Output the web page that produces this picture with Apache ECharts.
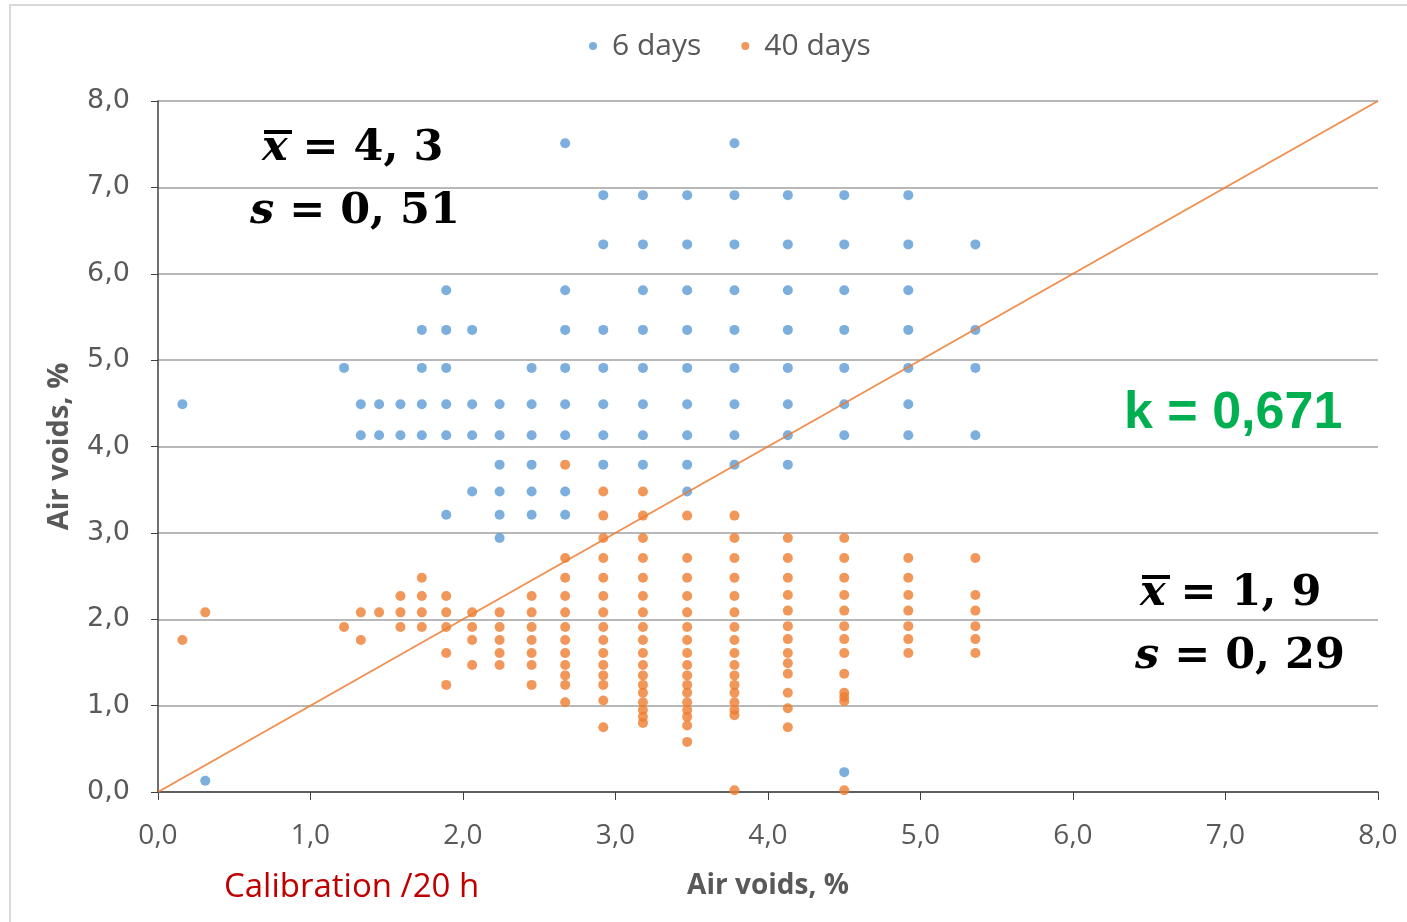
<!DOCTYPE html>
<html>
<head>
<meta charset="utf-8">
<title>Air voids</title>
<script src="https://cdn.jsdelivr.net/npm/echarts@6/dist/echarts.min.js"></script>
<style>
	html, body { margin: 0; padding: 0; background: #fff; }
	#chart { width: 1407px; height: 922px; }
</style>
</head>
<body>
<div id="chart"></div>
<script>
//legend names
var seriesNames = ['6 days', '40 days'];

//6 days points [x, y], one line per column
var days6 = [
	[0.16, 4.49],
	[0.31, 0.13],
	[1.22, 4.91],
	[1.33, 4.49], [1.33, 4.13],
	[1.45, 4.49], [1.45, 4.13],
	[1.59, 4.49], [1.59, 4.13],
	[1.73, 5.35], [1.73, 4.91], [1.73, 4.49], [1.73, 4.13],
	[1.89, 5.81], [1.89, 5.35], [1.89, 4.91], [1.89, 4.49], [1.89, 4.13], [1.89, 3.21],
	[2.06, 5.35], [2.06, 4.49], [2.06, 4.13], [2.06, 3.48],
	[2.24, 4.49], [2.24, 4.13], [2.24, 3.79], [2.24, 3.48], [2.24, 3.21], [2.24, 2.94],
	[2.45, 4.91], [2.45, 4.49], [2.45, 4.13], [2.45, 3.79], [2.45, 3.48], [2.45, 3.21],
	[2.67, 7.51], [2.67, 5.81], [2.67, 5.35], [2.67, 4.91], [2.67, 4.49], [2.67, 4.13], [2.67, 3.48], [2.67, 3.21],
	[2.92, 6.91], [2.92, 6.34], [2.92, 5.35], [2.92, 4.91], [2.92, 4.49], [2.92, 4.13], [2.92, 3.79],
	[3.18, 6.91], [3.18, 6.34], [3.18, 5.81], [3.18, 5.35], [3.18, 4.91], [3.18, 4.49], [3.18, 4.13], [3.18, 3.79],
	[3.47, 6.91], [3.47, 6.34], [3.47, 5.81], [3.47, 5.35], [3.47, 4.91], [3.47, 4.49], [3.47, 4.13], [3.47, 3.79], [3.47, 3.48],
	[3.78, 7.51], [3.78, 6.91], [3.78, 6.34], [3.78, 5.81], [3.78, 5.35], [3.78, 4.91], [3.78, 4.49], [3.78, 4.13], [3.78, 3.79],
	[4.13, 6.91], [4.13, 6.34], [4.13, 5.81], [4.13, 5.35], [4.13, 4.91], [4.13, 4.49], [4.13, 4.13], [4.13, 3.79],
	[4.50, 6.91], [4.50, 6.34], [4.50, 5.81], [4.50, 5.35], [4.50, 4.91], [4.50, 4.49], [4.50, 4.13], [4.50, 0.23],
	[4.92, 6.91], [4.92, 6.34], [4.92, 5.81], [4.92, 5.35], [4.92, 4.91], [4.92, 4.49], [4.92, 4.13],
	[5.36, 6.34], [5.36, 5.35], [5.36, 4.91], [5.36, 4.13]
];

//40 days points [x, y], one line per column
var days40 = [
	[0.16, 1.76],
	[0.31, 2.08],
	[1.22, 1.91],
	[1.33, 2.08], [1.33, 1.76],
	[1.45, 2.08],
	[1.59, 2.27], [1.59, 2.08], [1.59, 1.91],
	[1.73, 2.48], [1.73, 2.27], [1.73, 2.08], [1.73, 1.91],
	[1.89, 2.27], [1.89, 2.08], [1.89, 1.91], [1.89, 1.61], [1.89, 1.24],
	[2.06, 2.08], [2.06, 1.91], [2.06, 1.76], [2.06, 1.47],
	[2.24, 2.08], [2.24, 1.91], [2.24, 1.76], [2.24, 1.61], [2.24, 1.47],
	[2.45, 2.27], [2.45, 2.08], [2.45, 1.91], [2.45, 1.76], [2.45, 1.61], [2.45, 1.47], [2.45, 1.24],
	[2.67, 3.79], [2.67, 2.71], [2.67, 2.48], [2.67, 2.27], [2.67, 2.08], [2.67, 1.91], [2.67, 1.76], [2.67, 1.61], [2.67, 1.47], [2.67, 1.35], [2.67, 1.24], [2.67, 1.04],
	[2.92, 3.48], [2.92, 3.20], [2.92, 2.94], [2.92, 2.71], [2.92, 2.48], [2.92, 2.27], [2.92, 2.08], [2.92, 1.91], [2.92, 1.76], [2.92, 1.61], [2.92, 1.47], [2.92, 1.35], [2.92, 1.24], [2.92, 1.06], [2.92, 0.75],
	[3.18, 3.48], [3.18, 3.20], [3.18, 2.94], [3.18, 2.71], [3.18, 2.48], [3.18, 2.27], [3.18, 2.08], [3.18, 1.91], [3.18, 1.76], [3.18, 1.61], [3.18, 1.47], [3.18, 1.35], [3.18, 1.24], [3.18, 1.15], [3.18, 1.04], [3.18, 0.95], [3.18, 0.87], [3.18, 0.80],
	[3.47, 3.20], [3.47, 2.71], [3.47, 2.48], [3.47, 2.27], [3.47, 2.08], [3.47, 1.91], [3.47, 1.76], [3.47, 1.61], [3.47, 1.47], [3.47, 1.35], [3.47, 1.24], [3.47, 1.15], [3.47, 1.04], [3.47, 0.95], [3.47, 0.87], [3.47, 0.77], [3.47, 0.58],
	[3.78, 3.20], [3.78, 2.94], [3.78, 2.71], [3.78, 2.48], [3.78, 2.27], [3.78, 2.08], [3.78, 1.91], [3.78, 1.76], [3.78, 1.61], [3.78, 1.47], [3.78, 1.35], [3.78, 1.24], [3.78, 1.15], [3.78, 1.04], [3.78, 0.95], [3.78, 0.89], [3.78, 0.02],
	[4.13, 2.94], [4.13, 2.71], [4.13, 2.48], [4.13, 2.28], [4.13, 2.10], [4.13, 1.92], [4.13, 1.77], [4.13, 1.61], [4.13, 1.49], [4.13, 1.37], [4.13, 1.15], [4.13, 0.97], [4.13, 0.75],
	[4.50, 2.94], [4.50, 2.71], [4.50, 2.48], [4.50, 2.28], [4.50, 2.10], [4.50, 1.92], [4.50, 1.77], [4.50, 1.61], [4.50, 1.37], [4.50, 1.15], [4.50, 1.10], [4.50, 1.05], [4.50, 0.02],
	[4.92, 2.71], [4.92, 2.48], [4.92, 2.28], [4.92, 2.10], [4.92, 1.92], [4.92, 1.77], [4.92, 1.61],
	[5.36, 2.71], [5.36, 2.28], [5.36, 2.10], [5.36, 1.92], [5.36, 1.77], [5.36, 1.61]
];

//1:1 line
var lineData = [[0, 0], [8, 8]];

//axis range
var axisMin = 0;
var axisMax = 8;
var axisStep = 1;

var blue = '#5B9BD5';
var orange = '#ED7D31';
var grey = '#595959';

var fmt = function(v) {
	return v.toFixed(1).replace('.', ',');
};

var chart = echarts.init(document.getElementById('chart'));

//stat label: x with overline drawn as short bar
var statText = function(left, top, sym, val, bar) {
	var els = [{
		type: 'text',
		left: left,
		top: top,
		style: {
			text: '{i|' + sym + '} = ' + val,
			font: 'bold 43px "DejaVu Serif"',
			fill: '#000',
			rich: {
				i: { fontStyle: 'italic', fontWeight: 'bold', fontSize: 43, fontFamily: 'DejaVu Serif', fill: '#000' }
			}
		}
	}];
	if(bar) {
		els.push({
			type: 'rect',
			shape: { x: left + 2, y: top + 3, width: 28, height: 4 },
			style: { fill: '#000' }
		});
	}
	return els;
};

var graphics = [{
	type: 'rect',
	shape: { x: 10, y: 5, width: 1420, height: 940 },
	style: { fill: 'none', stroke: '#D9D9D9', lineWidth: 2 },
	silent: true
}, {
	type: 'text',
	left: 1124,
	top: 388,
	style: {
		text: 'k = 0,671',
		font: 'bold 52px "Liberation Sans"',
		fill: '#00B050'
	}
}, {
	type: 'text',
	left: 224,
	top: 871,
	style: {
		text: 'Calibration /20 h',
		font: '33px "Open Sans"',
		fill: '#C00000'
	}
}];
graphics = graphics.concat(statText(262, 127, 'x', '4, 3', true));
graphics = graphics.concat(statText(250, 190, 's', '0, 51', false));
graphics = graphics.concat(statText(1140, 572, 'x', '1, 9', true));
graphics = graphics.concat(statText(1135, 635, 's', '0, 29', false));

var option = {
	animation: false,
	backgroundColor: '#fff',
	legend: {
		data: seriesNames,
		top: 26,
		left: 584,
		itemGap: 40,
		itemWidth: 8,
		itemHeight: 8,
		icon: 'circle',
		textStyle: {
			fontSize: 30,
			fontFamily: 'Open Sans',
			color: grey,
			padding: [0, 0, 0, 10]
		}
	},
	grid: {
		left: 158,
		right: 29,
		top: 101,
		bottom: 130
	},
	xAxis: {
		type: 'value',
		min: axisMin,
		max: axisMax,
		interval: axisStep,
		name: 'Air voids, %',
		nameLocation: 'middle',
		nameGap: 80,
		nameTextStyle: {
			fontSize: 28,
			fontWeight: 'bold',
			fontFamily: 'Open Sans',
			color: grey
		},
		axisLine: { lineStyle: { color: '#404040', width: 1.5 } },
		axisTick: { show: true, length: 8, lineStyle: { color: '#404040' } },
		axisLabel: {
			formatter: fmt,
			fontSize: 28,
			fontFamily: 'Open Sans',
			color: grey,
			margin: 30
		},
		splitLine: { show: false }
	},
	yAxis: {
		type: 'value',
		min: axisMin,
		max: axisMax,
		interval: axisStep,
		name: 'Air voids, %',
		nameLocation: 'middle',
		nameGap: 84,
		nameTextStyle: {
			fontSize: 29,
			fontWeight: 'bold',
			fontFamily: 'Open Sans',
			color: grey
		},
		axisLine: { show: true, lineStyle: { color: '#404040', width: 1.5 } },
		axisTick: { show: true, length: 7, lineStyle: { color: '#404040' } },
		axisLabel: {
			formatter: fmt,
			fontSize: 27,
			fontFamily: 'DejaVu Sans',
			color: grey,
			margin: 28
		},
		splitLine: { show: true, lineStyle: { color: '#A0A0A0', width: 1.5 } }
	},
	series: [{
		name: seriesNames[0],
		type: 'scatter',
		data: days6,
		symbolSize: 10,
		itemStyle: { color: blue }
	}, {
		name: seriesNames[1],
		type: 'scatter',
		data: days40,
		symbolSize: 10,
		itemStyle: { color: orange }
	}, {
		name: '1:1',
		type: 'line',
		data: lineData,
		showSymbol: false,
		silent: true,
		z: 3,
		lineStyle: { color: orange, width: 2, opacity: 0.85 }
	}],
	graphic: graphics
};

chart.setOption(option);
</script>
</body>
</html>
